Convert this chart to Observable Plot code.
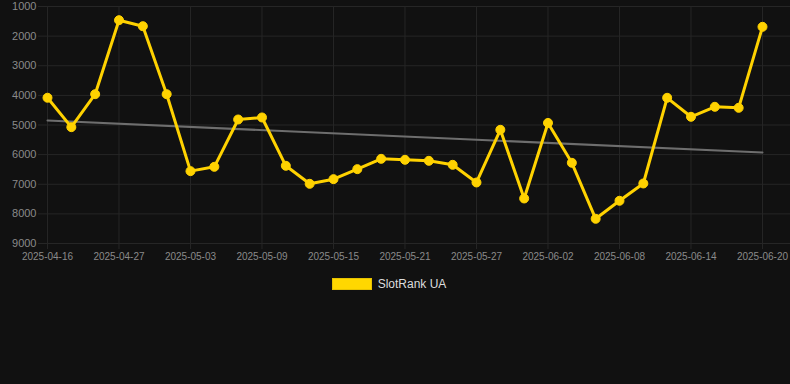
<!DOCTYPE html>
<html>
<head>
<meta charset="utf-8">
<script src="https://cdn.jsdelivr.net/npm/d3@7"></script>
<script src="https://cdn.jsdelivr.net/npm/@observablehq/plot@0.6"></script>
<style>
  html, body { margin: 0; padding: 0; background: #111111; }
  body { width: 790px; height: 384px; overflow: hidden; font-family: "Liberation Sans", Arial, Helvetica, sans-serif; }
  #legend { display: flex; justify-content: center; align-items: center; height: 14px; margin-top: 7px; padding-right: 12px; }
  #legend .sw { width: 38px; height: 10px; background: #FFD700; border: 1px solid #E6C200; margin-right: 6px; }
  #legend .lb { font-size: 12px; color: #dddddd; }
</style>
</head>
<body>
<div id="chart"></div>
<div id="legend"><span class="sw"></span><span class="lb">SlotRank UA</span></div>
<script>
const seriesName = "SlotRank UA";
const dates = [
  "2025-04-16","2025-04-21","2025-04-25","2025-04-27","2025-04-29","2025-05-01",
  "2025-05-03","2025-05-05","2025-05-07","2025-05-09","2025-05-11","2025-05-13",
  "2025-05-15","2025-05-17","2025-05-19","2025-05-21","2025-05-23","2025-05-25",
  "2025-05-27","2025-05-29","2025-05-31","2025-06-02","2025-06-04","2025-06-06",
  "2025-06-08","2025-06-10","2025-06-12","2025-06-14","2025-06-16","2025-06-18",
  "2025-06-20"
];
const ranks = [
  4080, 5073, 3960, 1462, 1665, 3960,
  6557, 6411, 4814, 4746, 6377, 6985,
  6828, 6490, 6142, 6175, 6209, 6344,
  6940, 5162, 7480, 4930, 6276, 8166,
  7558, 6974, 4082, 4723, 4386, 4420,
  1686
];
const yTicks = [1000, 2000, 3000, 4000, 5000, 6000, 7000, 8000, 9000];
const xTickIndex = [0, 3, 6, 9, 12, 15, 18, 21, 24, 27, 30];

const data = ranks.map((v, i) => ({i, date: dates[i], v}));

const gridColor = "#262626";
const textColor = "#8a8a8a";

const chart = Plot.plot({
  width: 790,
  height: 270,
  marginLeft: 38,
  marginRight: 0,
  marginTop: 6,
  marginBottom: 27,
  style: {background: "#111111", color: textColor, fontFamily: "'Liberation Sans', Arial, Helvetica, sans-serif", overflow: "visible"},
  x: {domain: [-0.3776, 31.175], ticks: xTickIndex, tickFormat: i => dates[i], label: null},
  y: {domain: [1000, 9000], reverse: true, ticks: yTicks, label: null},
  marks: [
    Plot.gridY(yTicks, {stroke: gridColor, strokeOpacity: 1, strokeWidth: 1}),
    Plot.gridX(xTickIndex, {stroke: gridColor, strokeOpacity: 1, strokeWidth: 1}),
    Plot.axisY({ticks: yTicks, tickSize: 0, tickPadding: 2, fontSize: 11, fill: textColor, label: null, tickFormat: d => String(d)}),
    Plot.axisX({ticks: xTickIndex, tickFormat: i => dates[i], tickSize: 6, tickPadding: 3, stroke: gridColor, fontSize: 10, fill: textColor, label: null}),
    Plot.linearRegressionY(data, {x: "i", y: "v", ci: 0, stroke: "#6e6e6e", strokeWidth: 2}),
    Plot.line(data, {x: "i", y: "v", stroke: "#FFD200", strokeWidth: 3, curve: "linear"}),
    Plot.dot(data, {x: "i", y: "v", r: 4.5, fill: "#FFD200", stroke: "#FFD200", strokeWidth: 1})
  ]
});
document.getElementById("chart").appendChild(chart);
</script>
</body>
</html>
